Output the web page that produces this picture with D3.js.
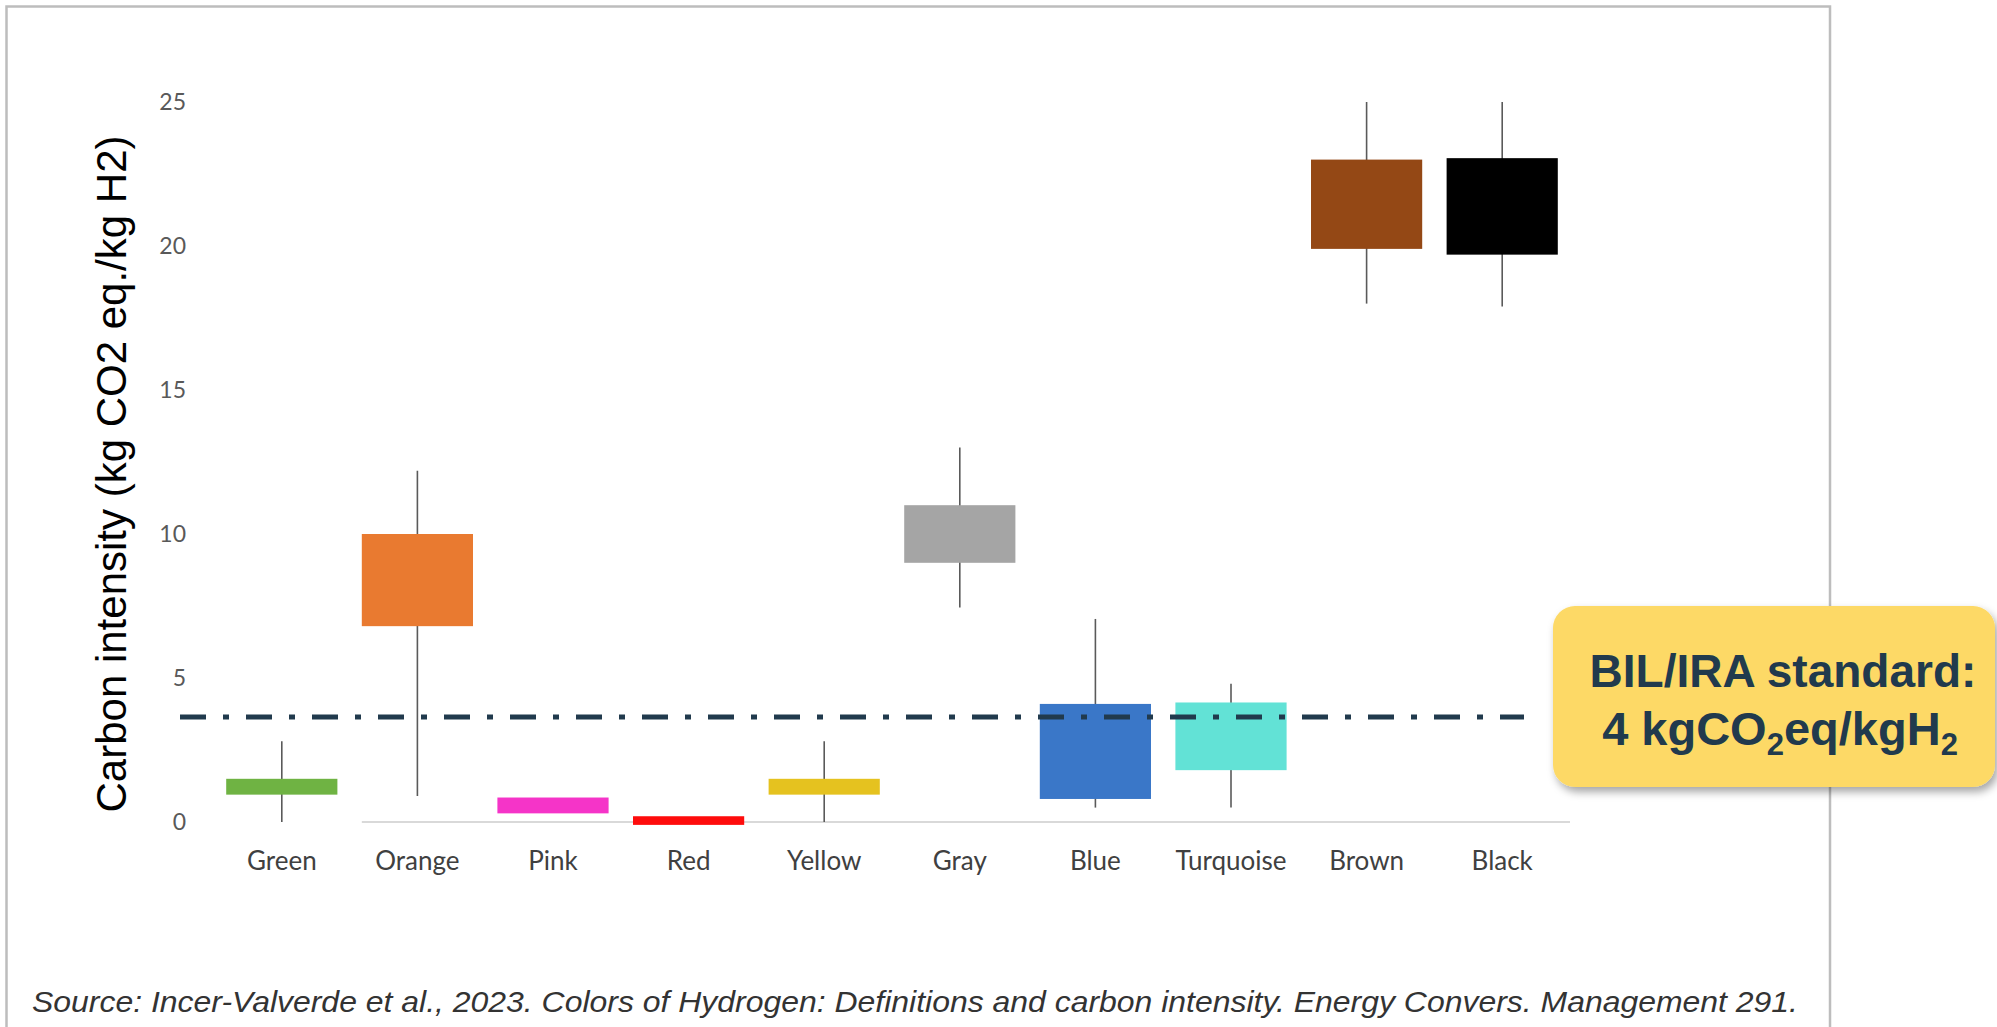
<!DOCTYPE html>
<html>
<head>
<meta charset="utf-8">
<script src="https://cdn.jsdelivr.net/npm/d3@7"></script>
<style>
  html, body { margin: 0; padding: 0; background: #ffffff; }
  svg { display: block; }
</style>
</head>
<body>
<script>
// ---- data ----
const categories = ["Green", "Orange", "Pink", "Red", "Yellow", "Gray", "Blue", "Turquoise", "Brown", "Black"];
const whiskerLow  = [0.0, 0.9, null, null, 0.0, 7.45, 0.5, 0.5, 18.0, 17.9];
const boxLow      = [0.95, 6.8, 0.3, -0.1, 0.95, 9.0, 0.8, 1.8, 19.9, 19.7];
const boxHigh     = [1.5, 10.0, 0.85, 0.2, 1.5, 11.0, 4.1, 4.15, 23.0, 23.05];
const whiskerHigh = [2.8, 12.2, null, null, 2.8, 13.0, 7.05, 4.8, 25.0, 25.0];
const boxColors   = ["#6fb343", "#e97a30", "#f534c8", "#fe0c0c", "#e5c21f", "#a5a5a5", "#3a77c8", "#62e2d6", "#944815", "#000000"];
const yTicks = [0, 5, 10, 15, 20, 25];
const standardLine = 3.65;
const yTitle = "Carbon intensity (kg CO2 eq./kg H2)";
const sourceText = "Source: Incer-Valverde et al., 2023. Colors of Hydrogen: Definitions and carbon intensity. Energy Convers. Management 291.";

const W = 1997, H = 1027;
const svg = d3.select("body").append("svg").attr("width", W).attr("height", H);

const defs = svg.append("defs");
const f = defs.append("filter").attr("id", "shadow").attr("x", "-10%").attr("y", "-10%").attr("width", "130%").attr("height", "140%");
f.append("feDropShadow").attr("dx", 3).attr("dy", 5).attr("stdDeviation", 4).attr("flood-color", "#000").attr("flood-opacity", 0.35);

// frame
svg.append("rect").attr("x", 6.5).attr("y", 6.5).attr("width", 1830 - 6.5).attr("height", 1040)
  .attr("fill", "#fff").attr("stroke", "#bdbdbd").attr("stroke-width", 2.5);

// scales
const x = d3.scaleBand().domain(categories).range([214, 1570]).paddingInner(0.18).paddingOuter(0.09);
const y = d3.scaleLinear().domain([0, 25]).range([822, 102]);

// baseline
svg.append("line")
  .attr("x1", x("Orange")).attr("x2", x.range()[1])
  .attr("y1", y(0)).attr("y2", y(0))
  .attr("stroke", "#d9d9d9").attr("stroke-width", 2);

// y axis ticks
const yAxis = d3.axisLeft(y).tickValues(yTicks).tickSize(0).tickPadding(0).tickFormat(d3.format("d"));
const gy = svg.append("g").attr("transform", "translate(186,0)").call(yAxis);
gy.select(".domain").remove();
gy.selectAll("text").attr("font-family", "Lato, sans-serif").attr("font-size", 23).attr("fill", "#595959");

// y title
svg.append("text")
  .attr("transform", `translate(126,${(y(0) + y(25)) / 2 + 12}) rotate(-90)`)
  .attr("text-anchor", "middle")
  .attr("font-family", "Liberation Sans, Arial, sans-serif")
  .attr("font-size", 42)
  .attr("fill", "#000")
  .text(yTitle);

const data = categories.map((c, i) => ({
  cat: c, wl: whiskerLow[i], bl: boxLow[i], bh: boxHigh[i], wh: whiskerHigh[i], color: boxColors[i]
}));

const g = svg.append("g");
// whiskers
g.selectAll("line.whisker").data(data.filter(d => d.wl !== null)).join("line")
  .attr("class", "whisker")
  .attr("x1", d => x(d.cat) + x.bandwidth() / 2).attr("x2", d => x(d.cat) + x.bandwidth() / 2)
  .attr("y1", d => y(d.wl)).attr("y2", d => y(d.wh))
  .attr("stroke", "#5a5a5a").attr("stroke-width", 1.6);

// boxes
g.selectAll("rect.box").data(data).join("rect")
  .attr("class", "box")
  .attr("x", d => x(d.cat)).attr("width", x.bandwidth())
  .attr("y", d => y(d.bh)).attr("height", d => y(d.bl) - y(d.bh))
  .attr("fill", d => d.color);

// category labels
svg.append("g").selectAll("text").data(categories).join("text")
  .attr("x", d => x(d) + x.bandwidth() / 2)
  .attr("y", 870)
  .attr("text-anchor", "middle")
  .attr("font-family", "Lato, sans-serif")
  .attr("font-size", 26)
  .attr("fill", "#404040")
  .text(d => d);

// standard line
svg.append("line")
  .attr("x1", 180).attr("x2", 1524)
  .attr("y1", y(standardLine)).attr("y2", y(standardLine))
  .attr("stroke", "#213a4d").attr("stroke-width", 5)
  .attr("stroke-dasharray", "26,17,6,17");

// callout box
const cb = svg.append("g");
cb.append("rect").attr("x", 1553).attr("y", 606).attr("width", 442).attr("height", 181)
  .attr("rx", 22).attr("ry", 22).attr("fill", "#fdd966").attr("filter", "url(#shadow)");
cb.append("text").attr("x", 1783).attr("y", 687).attr("text-anchor", "middle")
  .attr("font-family", "Liberation Sans, Arial, sans-serif").attr("font-weight", "bold")
  .attr("font-size", 46).attr("fill", "#213a4d")
  .text("BIL/IRA standard:");
const t2 = cb.append("text").attr("x", 1780).attr("y", 745).attr("text-anchor", "middle")
  .attr("font-family", "Liberation Sans, Arial, sans-serif").attr("font-weight", "bold")
  .attr("font-size", 47).attr("fill", "#213a4d");
t2.append("tspan").text("4 kgCO");
t2.append("tspan").attr("font-size", 31).attr("dy", 10).text("2");
t2.append("tspan").attr("dy", -10).text("eq/kgH");
t2.append("tspan").attr("font-size", 31).attr("dy", 10).text("2");

// source
svg.append("text").attr("x", 32).attr("y", 1012)
  .attr("font-family", "Liberation Sans, Arial, sans-serif").attr("font-style", "italic")
  .attr("font-size", 30).attr("fill", "#333")
  .attr("textLength", 1766).attr("lengthAdjust", "spacingAndGlyphs")
  .text(sourceText);
</script>
</body>
</html>
